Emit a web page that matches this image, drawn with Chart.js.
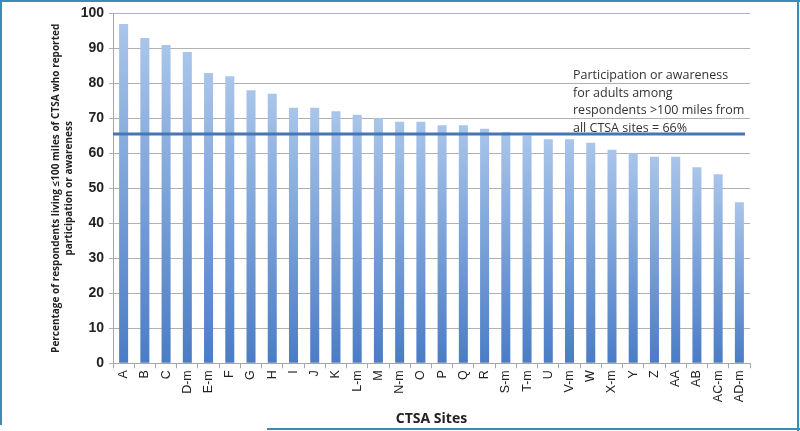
<!DOCTYPE html>
<html>
<head>
<meta charset="utf-8">
<script src="https://cdn.jsdelivr.net/npm/chart.js@4/dist/chart.umd.min.js"></script>
<style>
  html, body { margin: 0; padding: 0; background: #fff; }
  #frame { position: relative; width: 800px; height: 431px; overflow: hidden; }
  #frame .edge { position: absolute; background: #3b8cb2; }
  #chart-outer { position: absolute; left: 0; top: 0; width: 800px; height: 431px; }
  #note {
    position: absolute; left: 573px; top: 66px;
    font-family: "Open Sans", sans-serif; font-size: 12.5px; line-height: 17.5px;
    color: #333; white-space: nowrap;
  }
</style>
</head>
<body>
<div id="frame">
  <div id="chart-outer"><canvas id="chart-area"></canvas></div>
  <div id="note">Participation or awareness<br>for adults among<br>respondents &gt;100 miles from<br>all CTSA sites = 66%</div>
  <div class="edge" style="left:0;top:0;width:800px;height:2px"></div>
  <div class="edge" style="left:0;top:0;width:2px;height:425px"></div>
  <div class="edge" style="left:797px;top:0;width:2px;height:431px"></div>
  <div class="edge" style="left:267px;top:428px;width:533px;height:2px"></div>
</div>
<script>
const sites = ['A','B','C','D-m','E-m','F','G','H','I','J','K','L-m','M','N-m','O','P','Q','R','S-m','T-m','U','V-m','W','X-m','Y','Z','AA','AB','AC-m','AD-m'];
const percentages = [97,93,91,89,83,82,78,77,73,73,72,71,70,69,69,68,68,67,66,65,64,64,63,61,60,59,59,56,54,46];
const farAverage = 65.5; // line drawn for respondents >100 miles

// gradient per bar, light at top, darker at the base
function barFill(ctx) {
  const chart = ctx.chart;
  if (!chart.chartArea || ctx.parsed == null) return '#7fa4da';
  const y = chart.scales.y;
  const top = y.getPixelForValue(ctx.parsed.y);
  const base = y.getPixelForValue(0);
  const g = chart.ctx.createLinearGradient(0, top, 0, base);
  g.addColorStop(0, '#a9c5ea');
  g.addColorStop(1, '#4a7cc5');
  return g;
}

const avgLine = {
  id: 'avgLine',
  afterDatasetsDraw(chart) {
    const c = chart.ctx;
    const yy = chart.scales.y.getPixelForValue(farAverage);
    c.save();
    c.strokeStyle = '#4776b4';
    c.lineWidth = 3;
    c.beginPath();
    c.moveTo(chart.chartArea.left, yy);
    c.lineTo(chart.chartArea.right - 5, yy);
    c.stroke();
    c.restore();
  }
};

const chart = new Chart(document.getElementById('chart-area'), {
  type: 'bar',
  data: {
    labels: sites,
    datasets: [{
      data: percentages,
      backgroundColor: barFill,
      borderWidth: 0,
      barPercentage: 0.85,
      categoryPercentage: 0.5
    }]
  },
  plugins: [avgLine],
  options: {
    responsive: true,
    maintainAspectRatio: false,
    animation: false,
    layout: { padding: { left: 46, right: 50, top: 6, bottom: 4 } },
    plugins: { legend: { display: false }, tooltip: { enabled: false } },
    scales: {
      x: {
        grid: { drawOnChartArea: false, drawTicks: true, tickLength: 5, color: '#a6a6a6', offset: true },
        border: { color: '#a6a6a6' },
        ticks: {
          minRotation: 90, maxRotation: 90, autoSkip: false, padding: 2,
          color: '#222', font: { family: 'Liberation Sans', size: 12.5 }
        },
        title: {
          display: true, text: 'CTSA Sites', color: '#222',
          font: { family: 'Open Sans', size: 14, weight: 'bold' }, padding: { top: 6, bottom: 0 }
        }
      },
      y: {
        min: 0, max: 100,
        afterFit(s) { s.width = 67; },
        grid: { color: '#b0b0b0', tickLength: 4, drawTicks: true },
        border: { color: '#a6a6a6' },
        ticks: {
          stepSize: 10, padding: 5, color: '#222',
          font: { family: 'Liberation Sans', size: 14, weight: 'bold' }
        },
        title: {
          display: true,
          text: ['Percentage of respondents living \u2264100 miles of CTSA who reported', 'participation or awareness'],
          color: '#222',
          font: { family: 'Open Sans', size: 10, weight: 'bold', lineHeight: 1.3 },
          padding: { top: 4, bottom: 0 }
        }
      }
    }
  }
});
</script>
</body>
</html>
